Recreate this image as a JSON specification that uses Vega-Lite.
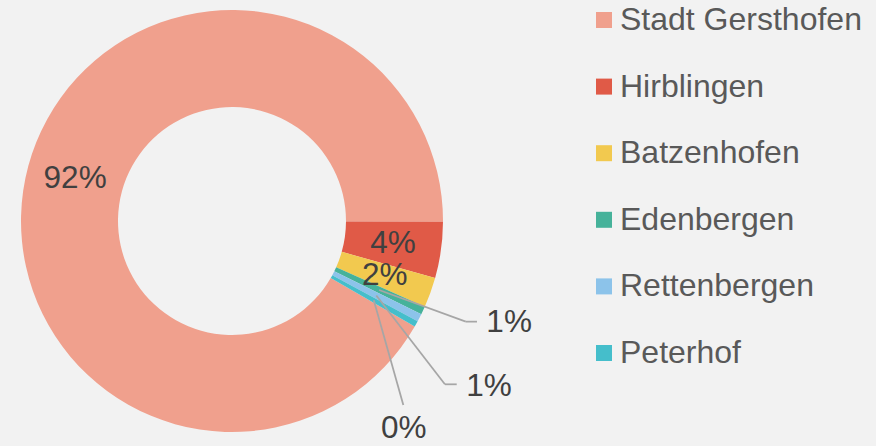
{
  "$schema": "https://vega.github.io/schema/vega-lite/v6.json",
  "width": 442,
  "height": 442,
  "autosize": {"type": "none"},
  "padding": {"left": 11, "top": 0, "right": 423, "bottom": 4},
  "background": "#f2f2f2",
  "config": {"view": {"stroke": null}, "font": "Liberation Sans"},
  "data": {
    "values": [
      {"Ortsteil": "Stadt Gersthofen", "Anteil": 0.917, "Nr": 1},
      {"Ortsteil": "Hirblingen", "Anteil": 0.043, "Nr": 2},
      {"Ortsteil": "Batzenhofen", "Anteil": 0.023, "Nr": 3},
      {"Ortsteil": "Edenbergen", "Anteil": 0.0062, "Nr": 4},
      {"Ortsteil": "Rettenbergen", "Anteil": 0.006, "Nr": 5},
      {"Ortsteil": "Peterhof", "Anteil": 0.0045, "Nr": 6}
    ]
  },
  "layer": [
    {
      "mark": {"type": "arc", "innerRadius": 114, "outerRadius": 211},
      "encoding": {
        "theta": {"field": "Anteil", "type": "quantitative", "stack": true, "scale": {"range": [2.0944, 8.3776]}},
        "order": {"field": "Nr", "type": "quantitative"},
        "color": {
          "field": "Ortsteil",
          "type": "nominal",
          "sort": ["Stadt Gersthofen", "Hirblingen", "Batzenhofen", "Edenbergen", "Rettenbergen", "Peterhof"],
          "scale": {
            "domain": ["Stadt Gersthofen", "Hirblingen", "Batzenhofen", "Edenbergen", "Rettenbergen", "Peterhof"],
            "range": ["#F0A08D", "#E05A47", "#F2C94F", "#46B29A", "#8CC3EA", "#45BECB"]
          },
          "legend": {
            "orient": "none",
            "legendX": 577,
            "legendY": 4,
            "title": null,
            "labelFontSize": 32,
            "labelFont": "Liberation Sans",
            "labelColor": "#595959",
            "symbolType": "square",
            "symbolSize": 256,
            "symbolStrokeWidth": 0,
            "rowPadding": 34.6,
            "labelOffset": 0,
            "padding": 0,
            "labelLimit": 400
          }
        }
      }
    },
    {
      "transform": [{"filter": "datum.Ortsteil == 'Edenbergen'"}],
      "mark": {"type": "rule", "color": "#A6A6A6", "strokeWidth": 1.75},
      "encoding": {
        "x": {"datum": 0.697, "type": "quantitative", "scale": {"domain": [-1.0474, 1.0474], "nice": false, "zero": false}, "axis": null},
        "y": {"datum": -0.327, "type": "quantitative", "scale": {"domain": [-1.0474, 1.0474], "nice": false, "zero": false}, "axis": null},
        "x2": {"datum": 1.108},
        "y2": {"datum": -0.477}
      }
    },
    {
      "transform": [{"filter": "datum.Ortsteil == 'Edenbergen'"}],
      "mark": {"type": "rule", "color": "#A6A6A6", "strokeWidth": 1.75},
      "encoding": {
        "x": {"datum": 1.108, "type": "quantitative"},
        "y": {"datum": -0.477, "type": "quantitative"},
        "x2": {"datum": 1.161},
        "y2": {"datum": -0.477}
      }
    },
    {
      "transform": [{"filter": "datum.Ortsteil == 'Rettenbergen'"}],
      "mark": {"type": "rule", "color": "#A6A6A6", "strokeWidth": 1.75},
      "encoding": {
        "x": {"datum": 0.684, "type": "quantitative"},
        "y": {"datum": -0.353, "type": "quantitative"},
        "x2": {"datum": 1.009},
        "y2": {"datum": -0.774}
      }
    },
    {
      "transform": [{"filter": "datum.Ortsteil == 'Rettenbergen'"}],
      "mark": {"type": "rule", "color": "#A6A6A6", "strokeWidth": 1.75},
      "encoding": {
        "x": {"datum": 1.009, "type": "quantitative"},
        "y": {"datum": -0.774, "type": "quantitative"},
        "x2": {"datum": 1.065},
        "y2": {"datum": -0.774}
      }
    },
    {
      "transform": [{"filter": "datum.Ortsteil == 'Peterhof'"}],
      "mark": {"type": "rule", "color": "#A6A6A6", "strokeWidth": 1.75},
      "encoding": {
        "x": {"datum": 0.672, "type": "quantitative"},
        "y": {"datum": -0.376, "type": "quantitative"},
        "x2": {"datum": 0.812},
        "y2": {"datum": -0.872}
      }
    },
    {
      "mark": {"type": "text", "radius": 162.5, "fontSize": 31.5, "color": "#404040", "font": "Liberation Sans"},
      "encoding": {
        "theta": {"field": "Anteil", "type": "quantitative", "stack": true},
        "order": {"field": "Nr", "type": "quantitative"},
        "detail": {"field": "Ortsteil", "type": "nominal"},
        "text": {"condition": {"test": "datum.Anteil < 0.02", "value": ""}, "field": "Anteil", "type": "quantitative", "format": ".0%"}
      }
    },
    {
      "mark": {"type": "text", "radius": 295, "dx": 10, "dy": -23, "fontSize": 31.5, "color": "#404040", "font": "Liberation Sans"},
      "encoding": {
        "theta": {"field": "Anteil", "type": "quantitative", "stack": true},
        "order": {"field": "Nr", "type": "quantitative"},
        "detail": {"field": "Ortsteil", "type": "nominal"},
        "text": {"condition": {"test": "datum.Ortsteil != 'Edenbergen'", "value": ""}, "field": "Anteil", "type": "quantitative", "format": ".0%"}
      }
    },
    {
      "mark": {"type": "text", "radius": 305, "dx": -14, "dy": 26, "fontSize": 31.5, "color": "#404040", "font": "Liberation Sans"},
      "encoding": {
        "theta": {"field": "Anteil", "type": "quantitative", "stack": true},
        "order": {"field": "Nr", "type": "quantitative"},
        "detail": {"field": "Ortsteil", "type": "nominal"},
        "text": {"condition": {"test": "datum.Ortsteil != 'Rettenbergen'", "value": ""}, "field": "Anteil", "type": "quantitative", "format": ".0%"}
      }
    },
    {
      "mark": {"type": "text", "radius": 270, "dx": -64, "dy": 76, "fontSize": 31.5, "color": "#404040", "font": "Liberation Sans"},
      "encoding": {
        "theta": {"field": "Anteil", "type": "quantitative", "stack": true},
        "order": {"field": "Nr", "type": "quantitative"},
        "detail": {"field": "Ortsteil", "type": "nominal"},
        "text": {"condition": {"test": "datum.Ortsteil != 'Peterhof'", "value": ""}, "field": "Anteil", "type": "quantitative", "format": ".0%"}
      }
    }
  ]
}
